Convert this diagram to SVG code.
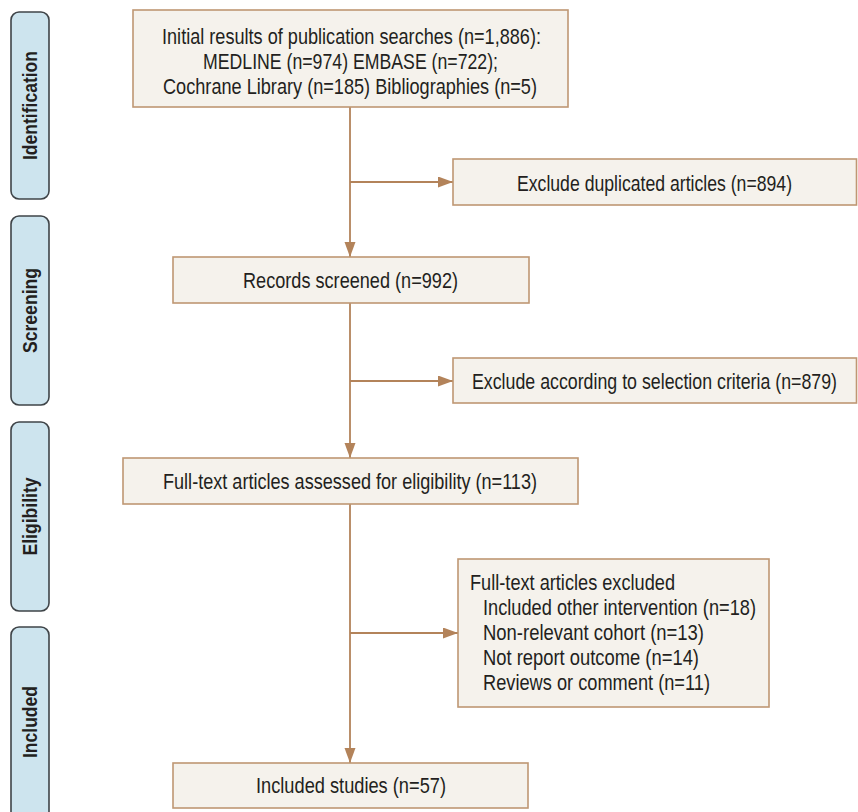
<svg xmlns="http://www.w3.org/2000/svg" width="858" height="812" viewBox="0 0 858 812">
<style>
.box{fill:#f5f2ec;stroke:#bf9773;stroke-width:1.6}
.side{fill:#cde4ee;stroke:#3f4448;stroke-width:1.6}
.t{font-family:"Liberation Sans",Arial,sans-serif;font-size:22.5px;fill:#231f20}
.m{text-anchor:middle}
.s{font-family:"Liberation Sans",Arial,sans-serif;font-size:19.5px;font-weight:bold;fill:#231f20;text-anchor:middle}
.ln{stroke:#b3835a;stroke-width:1.8;fill:none}
</style>
<defs>
<marker id="ah" markerUnits="userSpaceOnUse" markerWidth="16" markerHeight="12" refX="15" refY="5.5" orient="auto">
<path d="M0,0 L15,5.5 L0,11 z" fill="#b3835a"/>
</marker>
</defs>
<rect width="858" height="812" fill="#ffffff"/>
<g id="stages">
<g id="stage-identification"><rect class="side" x="11" y="12" width="38" height="187" rx="8"/><text class="s" transform="translate(37,105.5) rotate(-90)" textLength="109" lengthAdjust="spacingAndGlyphs">Identification</text></g>
<g id="stage-screening"><rect class="side" x="11" y="216" width="38" height="189" rx="8"/><text class="s" transform="translate(37,310.5) rotate(-90)" textLength="85" lengthAdjust="spacingAndGlyphs">Screening</text></g>
<g id="stage-eligibility"><rect class="side" x="11" y="422" width="38" height="189" rx="8"/><text class="s" transform="translate(37,516.5) rotate(-90)" textLength="78" lengthAdjust="spacingAndGlyphs">Eligibility</text></g>
<g id="stage-included"><rect class="side" x="11" y="627" width="38" height="200" rx="8"/><text class="s" transform="translate(37,722) rotate(-90)" textLength="72" lengthAdjust="spacingAndGlyphs">Included</text></g>
</g>
<g id="connectors">
<line class="ln" x1="350" y1="107" x2="350" y2="257" marker-end="url(#ah)"/>
<line class="ln" x1="350" y1="182" x2="453" y2="182" marker-end="url(#ah)"/>
<line class="ln" x1="350" y1="303" x2="350" y2="458" marker-end="url(#ah)"/>
<line class="ln" x1="350" y1="381" x2="453" y2="381" marker-end="url(#ah)"/>
<line class="ln" x1="350" y1="504" x2="350" y2="763" marker-end="url(#ah)"/>
<line class="ln" x1="350" y1="633" x2="458" y2="633" marker-end="url(#ah)"/>
</g>
<g id="initial">
<rect class="box" x="133" y="10" width="435" height="97"/>
<text class="t m" x="351.5" y="43.5" textLength="379" lengthAdjust="spacingAndGlyphs">Initial results of publication searches (n=1,886):</text>
<text class="t m" x="350.5" y="68.5" textLength="295" lengthAdjust="spacingAndGlyphs">MEDLINE (n=974) EMBASE (n=722);</text>
<text class="t m" x="350" y="93.5" textLength="374" lengthAdjust="spacingAndGlyphs">Cochrane Library (n=185) Bibliographies (n=5)</text>
</g>
<g id="duplicates">
<rect class="box" x="453" y="159" width="403.5" height="46"/>
<text class="t m" transform="translate(654.5,191) scale(0.72,1)" x="0" y="0" textLength="382" lengthAdjust="spacingAndGlyphs">Exclude duplicated articles (n=894)</text>
</g>
<g id="screened">
<rect class="box" x="173" y="257" width="356" height="46"/>
<text class="t m" x="350.5" y="287.5" textLength="215" lengthAdjust="spacingAndGlyphs">Records screened (n=992)</text>
</g>
<g id="criteria">
<rect class="box" x="453" y="358" width="403.5" height="45"/>
<text class="t m" transform="translate(654.5,388.5) scale(0.72,1)" x="0" y="0" textLength="507" lengthAdjust="spacingAndGlyphs">Exclude according to selection criteria (n=879)</text>
</g>
<g id="fulltext">
<rect class="box" x="123" y="458" width="455" height="46"/>
<text class="t m" x="350" y="488.5" textLength="374" lengthAdjust="spacingAndGlyphs">Full-text articles assessed for eligibility (n=113)</text>
</g>
<g id="excluded">
<rect class="box" x="458" y="559" width="311" height="148"/>
<text class="t" x="470" y="589.5" textLength="205" lengthAdjust="spacingAndGlyphs">Full-text articles excluded</text>
<text class="t" x="483" y="615" textLength="273" lengthAdjust="spacingAndGlyphs">Included other intervention (n=18)</text>
<text class="t" x="483" y="640" textLength="221" lengthAdjust="spacingAndGlyphs">Non-relevant cohort (n=13)</text>
<text class="t" x="483" y="665" textLength="216" lengthAdjust="spacingAndGlyphs">Not report outcome (n=14)</text>
<text class="t" x="483" y="690" textLength="227" lengthAdjust="spacingAndGlyphs">Reviews or comment (n=11)</text>
</g>
<g id="included">
<rect class="box" x="173" y="763" width="355" height="45"/>
<text class="t m" x="351" y="792.5" textLength="190" lengthAdjust="spacingAndGlyphs">Included studies (n=57)</text>
</g>
</svg>
